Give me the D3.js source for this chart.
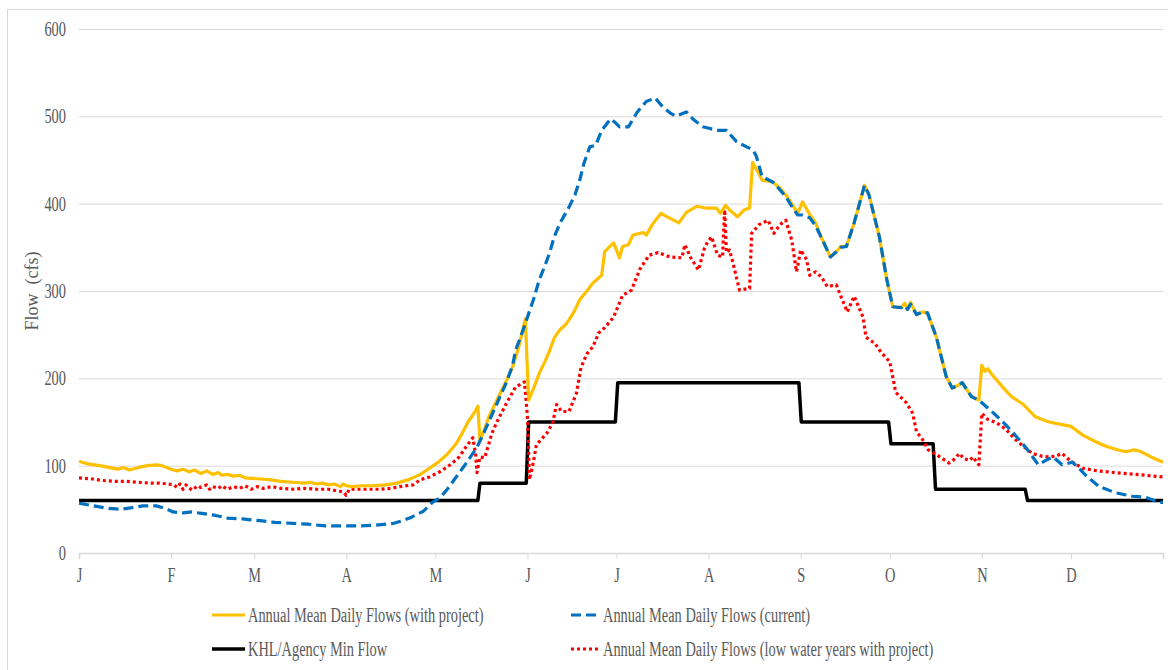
<!DOCTYPE html>
<html>
<head>
<meta charset="utf-8">
<script src="https://cdn.jsdelivr.net/npm/d3@7"></script>
<style>
  body { margin: 0; background: #fff; }
  text { font-family: "Liberation Serif", "Times New Roman", serif; fill: #595959; }
</style>
</head>
<body>
<script>
// day-of-year, flow (cfs)
var withProject = [[0,105],[3,102],[7,100],[10,98],[13,96],[15,98],[17,95],[20,98],[23,100],[26,101],[28,100],[31,96],[33,94],[35,96],[37,93],[39,95],[41,91],[43,94],[45,90],[47,92],[48,89],[50,90],[52,88],[54,89],[56,86],[60,85],[64,84],[68,82],[72,81],[76,80],[78,81],[80,79],[82,80],[84,78],[86,79],[88,76],[89,79],[90,77],[92,76],[95,77],[99,77],[103,78],[107,80],[111,84],[115,90],[118,97],[121,104],[124,113],[127,125],[129,137],[131,150],[133,160],[134.3,168],[135,129],[136.5,141],[138,156],[140,170],[142,184],[144,198],[146,213],[148,235],[150.3,268],[151.4,175],[153,188],[155,206],[157,220],[158.5,232],[160,246],[162,256],[164,262],[165,267],[167,278],[168.6,290],[171,300],[173,309],[176,318],[177,345],[180,355],[182,338],[183,351],[185,353],[186.5,364],[190,367],[191,364],[193,376],[196,389],[198,385],[202,378],[204.5,390],[208,397],[211,395],[214.6,395],[216,389],[217.7,398],[219,393],[221.7,385],[224,393],[225.8,395],[226.8,447],[228.5,437],[230,427],[233.5,425],[236,418],[238,410],[240,400],[242,389],[243.6,402],[246,388],[248,378],[250,361],[253,339],[255,345],[256.5,351],[258.4,351],[261,378],[264.5,421],[266,410],[269.5,362],[272,313],[274,282],[277,281],[278,286],[279,279],[280,287],[282,273],[284,276],[285.7,275],[288.7,247],[292,202],[294,189],[296,192],[297.4,195],[300.5,179],[303,175],[304,215],[305,208],[306,211],[307.5,204],[311,190],[314,179],[318,170],[322,156],[325,152],[326.7,150],[331,147],[334,145],[338,135],[342,128],[346,122],[350,118],[352.6,116],[355,118],[357,117],[361,110],[365,104]];

var current = [[0,57],[5,54],[10,51],[14,50],[18,52],[21.5,54],[26,54],[29,51],[31.7,47],[35,46],[38,47],[42,45],[46,43],[50,40],[55,39],[61,37],[66,35],[72,34],[77,33],[83,31],[89,31],[94.5,31],[100,32],[106,34],[109,37],[112,41],[116,48],[119,58],[121.5,63],[124,73],[127,87],[130,101],[134,121],[136.5,139],[139,158],[141.5,177],[144,196],[146,215],[147,232],[149.5,255],[150.7,267],[153,290],[155,313],[157,330],[158.5,344],[160,362],[162,378],[165,396],[167,410],[168.6,427],[170,446],[172,465],[174,467],[176,484],[179,497],[180.5,493],[182,488],[185,488],[188,505],[191,517],[194,521],[196.5,511],[199,504],[201,500],[204.5,505],[207,496],[210,488],[212.5,486],[214.6,484],[218,484],[221.4,471],[224.8,465],[226.8,462],[228,455],[230,431],[233.5,425],[236,416],[238,408],[240,397],[242,387],[243.6,387],[246,384],[248,375],[250,361],[253,339],[255,345],[256.5,350],[258.4,351],[261,378],[264.5,421],[266,410],[269.5,362],[272,313],[274,282],[277,281],[278,283],[279,279],[280,285],[282,273],[284,276],[285.7,275],[288.7,247],[292,202],[294,189],[296,192],[297.4,195],[300.5,179],[303,175],[304,172],[308,160],[312,147],[316,132],[319,120],[323,101],[326,107],[328,110],[331,101],[334.5,104],[337,96],[339,89],[343.5,76],[349,69],[354.7,65],[359,64],[363.7,58],[365,58]];

var lowWater = [[0,86],[4,85],[8,83],[12,82],[16,82],[20,81],[24,80],[27,80],[30,79],[32,78],[33,75],[34,79],[35,73],[36,78],[38,72],[40,77],[41,75],[43,78],[44,73],[45,76],[47,74],[48,77],[50,73],[52,76],[54,74],[56,77],[58,73],[60,76],[62,74],[65,76],[68,74],[72,73],[76,74],[80,73],[84,73],[87,71],[89,70],[90,66],[91,73],[94,73],[98,73],[101,73],[105,74],[108,76],[112.5,78],[115,84],[118,87],[121.5,93],[125,101],[128,110],[130,120],[132.6,132],[133.6,112],[134,92],[135,110],[136.6,109],[138,125],[139,137],[141,152],[144,172],[147,190],[150,196],[151,156],[151.7,84],[153,104],[154,124],[157.5,137],[159.5,149],[160.8,170],[162.5,162],[165,162],[167.5,183],[169,212],[171,228],[173,236],[175,252],[177,258],[180,270],[183,295],[186,301],[189,326],[192,341],[195,344],[199,339],[203,338],[204,353],[206,338],[208.6,324],[210.5,348],[211.6,356],[213,362],[215,341],[216.7,339],[217.4,393],[218,344],[219,347],[220,335],[222.4,301],[225.8,303],[226.5,366],[229,376],[232,381],[234,366],[236,376],[238,381],[240,358],[241.6,322],[243,347],[245,336],[246,318],[248,322],[250,316],[252,305],[255,307],[257,290],[258.7,276],[261,294],[264,270],[265,247],[268,240],[270,230],[273,219],[275,184],[278.6,172],[280.7,160],[282,139],[284,130],[286,118],[289,112],[293,103],[295,108],[296.4,114],[298,108],[300,106],[301,110],[303,101],[304,160],[306,153],[309,149],[312,142],[315.6,129],[318,122],[321,114],[324,111],[326.7,110],[329,111],[331,114],[334,105],[338,97],[343,94],[349,92],[356,90],[365,87]];

var minFlow = [[0,60],[134.3,60],[135,80],[150.6,80],[151.4,150],[180.6,150],[181.4,195],[242.4,195],[243.2,150],[272.6,150],[273.4,125],[287.6,125],[288.4,73],[318.6,73],[319.4,60],[365,60]];

var monthStarts = [0,31,59,90,120,151,181,212,243,273,304,334,365];
var monthLabels = ['J','F','M','A','M','J','J','A','S','O','N','D',''];
var yTicks = [0,100,200,300,400,500,600];

var series = [
  {name: 'Annual Mean Daily Flows (with project)', data: withProject, color: '#FFC000', dash: null, width: 3.2},
  {name: 'Annual Mean Daily Flows (current)', data: current, color: '#0070C0', dash: '10,5', width: 3.2},
  {name: 'KHL/Agency Min Flow', data: minFlow, color: '#000000', dash: null, width: 3.5},
  {name: 'Annual Mean Daily Flows (low water years with project)', data: lowWater, color: '#FF0000', dash: '3,3', width: 3.2}
];

var svg = d3.select('body').append('svg')
    .attr('width', 1168)
    .attr('height', 670);

svg.append('rect')
    .attr('x', 7.5).attr('y', 9.5)
    .attr('width', 1200).attr('height', 700)
    .attr('fill', 'none')
    .attr('stroke', '#d9d9d9');

var x = d3.scaleLinear().domain([0, 365]).range([79, 1163]);
var y = d3.scaleLinear().domain([0, 600]).range([553, 29]);

// squeeze text horizontally, the source fonts are narrow
function squeeze(sel, k) {
    sel.each(function() {
        var len = this.getComputedTextLength();
        if (len > 0) {
            d3.select(this).attr('textLength', len * k).attr('lengthAdjust', 'spacingAndGlyphs');
        }
    });
}

var yAxis = svg.append('g')
    .attr('transform', 'translate(79,0)')
    .call(d3.axisLeft(y).tickValues(yTicks).tickSize(-(1163 - 79)).tickPadding(13));
yAxis.select('.domain').remove();
yAxis.selectAll('.tick line').attr('stroke', '#d9d9d9');
yAxis.selectAll('.tick').filter(function(d) { return d === 0; }).select('line').remove();
yAxis.selectAll('.tick text')
    .style('font-size', '20px')
    .attr('fill', '#595959')
    .call(squeeze, 0.72);

var xAxis = svg.append('g')
    .attr('transform', 'translate(0,553)')
    .call(d3.axisBottom(x).tickValues(monthStarts)
        .tickFormat(function(d, i) { return monthLabels[i]; })
        .tickSize(6).tickPadding(9));
xAxis.select('.domain').attr('stroke', '#d9d9d9').attr('stroke-width', 1.5);
xAxis.selectAll('.tick line').attr('stroke', '#d9d9d9');
xAxis.selectAll('.tick text')
    .style('font-size', '20px')
    .attr('fill', '#595959')
    .call(squeeze, 0.72);

svg.append('text')
    .attr('transform', 'translate(38,291) rotate(-90)')
    .attr('text-anchor', 'middle')
    .style('font-size', '18px')
    .style('white-space', 'pre')
    .text('Flow  (cfs)');

var line = d3.line()
    .x(function(d) { return x(d[0]); })
    .y(function(d) { return y(d[1]); });

// draw order: min flow, low water, current, with project on top
[2, 3, 0, 1].forEach(function(i) {
    var s = series[i];
    svg.append('path')
        .datum(s.data)
        .attr('d', line)
        .attr('fill', 'none')
        .attr('stroke', s.color)
        .attr('stroke-width', s.width)
        .attr('stroke-linejoin', 'round')
        .attr('stroke-dasharray', s.dash);
});

var legendPos = [[212, 615], [571, 615], [212, 649], [571, 649]];
series.forEach(function(s, i) {
    var p = legendPos[i];
    var g = svg.append('g').attr('transform', 'translate(' + p[0] + ',' + p[1] + ')');
    g.append('line')
        .attr('x1', 0).attr('x2', i % 2 === 0 ? 33 : 28)
        .attr('y1', 0).attr('y2', 0)
        .attr('stroke', s.color)
        .attr('stroke-width', s.width)
        .attr('stroke-dasharray', s.dash);
    g.append('text')
        .attr('x', i % 2 === 0 ? 36 : 32)
        .attr('y', 0)
        .attr('dy', '0.33em')
        .style('font-size', '20px')
        .text(s.name)
        .call(squeeze, 0.72);
});
</script>
</body>
</html>
